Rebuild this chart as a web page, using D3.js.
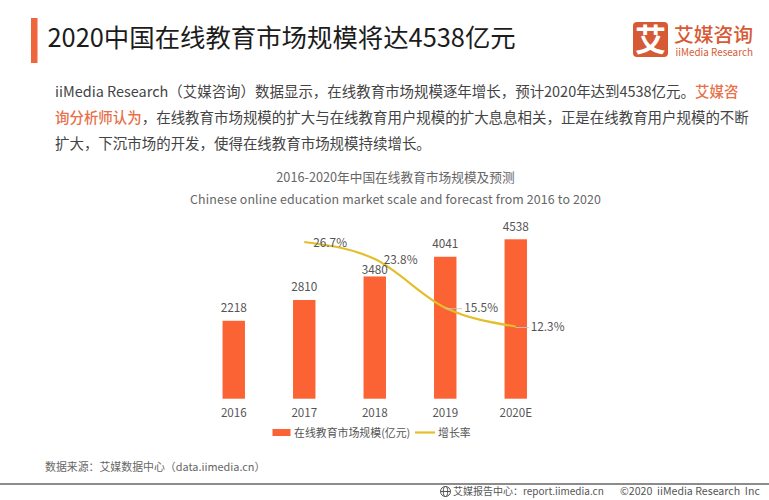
<!DOCTYPE html>
<html><head><meta charset="utf-8">
<script src="https://cdn.jsdelivr.net/npm/d3@7"></script>
<style>html,body{margin:0;padding:0;background:#fff}svg{display:block}text{font-family:"Noto Sans CJK SC","Noto Sans",sans-serif}</style>
</head><body><svg id="c" width="769" height="500"></svg>
<script>
const categories=["2016","2017","2018","2019","2020E"];
const marketScale=[2218,2810,3480,4041,4538];
const growthRate=[null,26.7,23.8,15.5,12.3];
const legendNames=["在线教育市场规模(亿元)","增长率"];
const bodyLines=[
 [["iiMedia Research（艾媒咨询）数据显示，在线教育市场规模逐年增长，预计2020年达到4538亿元。","#444",400],["艾媒咨","#e8704a",500]],
 [["询分析师认为","#e8704a",500],["，在线教育市场规模的扩大与在线教育用户规模的扩大息息相关，正是在线教育用户规模的不断","#444",400]],
 [["扩大，下沉市场的开发，使得在线教育市场规模持续增长。","#444",400]]
];
const svg=d3.select("#c");
const ORANGE="#fb6234",YEL="#e3bf2d",GREY="#555";
const txt=(x,y,s,size,fill,anchor)=>svg.append("text").attr("x",x).attr("y",y).attr("font-size",size).attr("fill",fill).attr("text-anchor",anchor||"start").text(s);

svg.append("rect").attr("x",31).attr("y",18).attr("width",6.5).attr("height",45).attr("fill","#f0663c");
txt(47.5,47,"2020中国在线教育市场规模将达4538亿元",25.4,"#1c1c1c");

// logo
svg.append("rect").attr("x",633).attr("y",22).attr("width",35).attr("height",35).attr("rx",4).attr("fill","#d65a36");
txt(650.5,51,"艾",31,"#fff","middle").attr("font-weight",700);
txt(674,41.5,"艾媒咨询",19.8,"#d65a36").attr("font-weight",500);
txt(675.5,55.5,"iiMedia Research",9.9,"#d65a36");

// body
bodyLines.forEach((runs,i)=>{
  const t=svg.append("text").attr("x",55).attr("y",97+i*26).attr("font-size",14.46);
  runs.forEach(r=>t.append("tspan").attr("fill",r[1]).attr("font-weight",r[2]).text(r[0]));
});

// chart titles
txt(395.5,182,"2016-2020年中国在线教育市场规模及预测",12.7,"#666","middle");
txt(395.5,204,"Chinese online education market scale and forecast from 2016 to 2020",12.4,"#666","middle").attr("letter-spacing",0.13);

// scales
const x=d3.scaleBand().domain(categories).range([198.5,551]).paddingInner(0.682).paddingOuter(0.341);
const y=d3.scaleLinear().domain([0,4538]).range([398.7,239.3]);
const yRate=d3.scaleLinear().domain([12.3,26.7]).range([326.5,242]);
const cx=c=>x(c)+x.bandwidth()/2;

svg.append("g").selectAll("rect").data(categories).join("rect")
  .attr("x",d=>x(d)).attr("width",x.bandwidth())
  .attr("y",(d,i)=>y(marketScale[i])).attr("height",(d,i)=>y(0)-y(marketScale[i]))
  .attr("fill",ORANGE);

// category axis
const axis=d3.axisBottom(x).tickSize(0).tickPadding(0);
const ax=svg.append("g").attr("transform","translate(0,"+y(0)+")").call(axis);
ax.select(".domain").remove();
ax.selectAll("text").attr("y",18.5).attr("dy",0).attr("font-size",11.6).attr("fill",GREY)
  .style("font-family",'"Noto Sans CJK SC"');

// growth line
const pts=categories.map((c,i)=>({c,v:growthRate[i]})).filter(d=>d.v!=null);
const line=d3.line().x(d=>cx(d.c)).y(d=>yRate(d.v)).curve(d3.curveMonotoneX);
svg.append("path").datum(pts).attr("d",line).attr("fill","none").attr("stroke",YEL).attr("stroke-width",2.2);

// value labels, the 2018 one is pushed down against its bar as in the reference
const valueGap=[8.5,8.5,2.2,8.5,8.5];
svg.append("g").selectAll("text").data(categories).join("text")
  .attr("x",d=>cx(d)).attr("y",(d,i)=>y(marketScale[i])-valueGap[i])
  .attr("text-anchor","middle").attr("font-size",11.8).attr("fill",GREY)
  .text((d,i)=>marketScale[i]);

// rate labels with short leader lines
const labelDx=[0,9,9,19,15];
const labelLead=[0,0,0,1,1];
pts.forEach(d=>{
  const i=categories.indexOf(d.c),px=cx(d.c),py=yRate(d.v);
  if(labelLead[i]) svg.append("line").attr("x1",px).attr("x2",px+labelDx[i]-2)
     .attr("y1",py+1).attr("y2",py+1).attr("stroke","#c4c4c4").attr("stroke-width",0.9);
  txt(px+labelDx[i],py+4.5,d.v.toFixed(1)+"%",11.8,GREY);
});

// legend
svg.append("rect").attr("x",272.5).attr("y",429).attr("width",18).attr("height",7).attr("fill",ORANGE);
txt(294,436.5,legendNames[0],10.9,GREY);
svg.append("line").attr("x1",415).attr("x2",435).attr("y1",432.5).attr("y2",432.5).attr("stroke",YEL).attr("stroke-width",2.2);
txt(438,436.5,legendNames[1],10.9,GREY);

// footer
txt(45,471,"数据来源：艾媒数据中心（data.iimedia.cn）",10.9,"#666");
svg.append("rect").attr("x",0).attr("y",483).attr("width",769).attr("height",2).attr("fill","#8c8c8c");
const g=svg.append("g").attr("transform","translate(445.5,491.5)").attr("fill","none").attr("stroke","#555").attr("stroke-width",1);
g.append("circle").attr("r",5);
g.append("ellipse").attr("rx",2.2).attr("ry",5);
g.append("line").attr("x1",-5).attr("x2",5);
txt(453,495,"艾媒报告中心：report.iimedia.cn",10,"#555");
txt(620,495,"©2020  iiMedia Research  Inc",10.6,"#555").style("white-space","pre");
</script></body></html>
